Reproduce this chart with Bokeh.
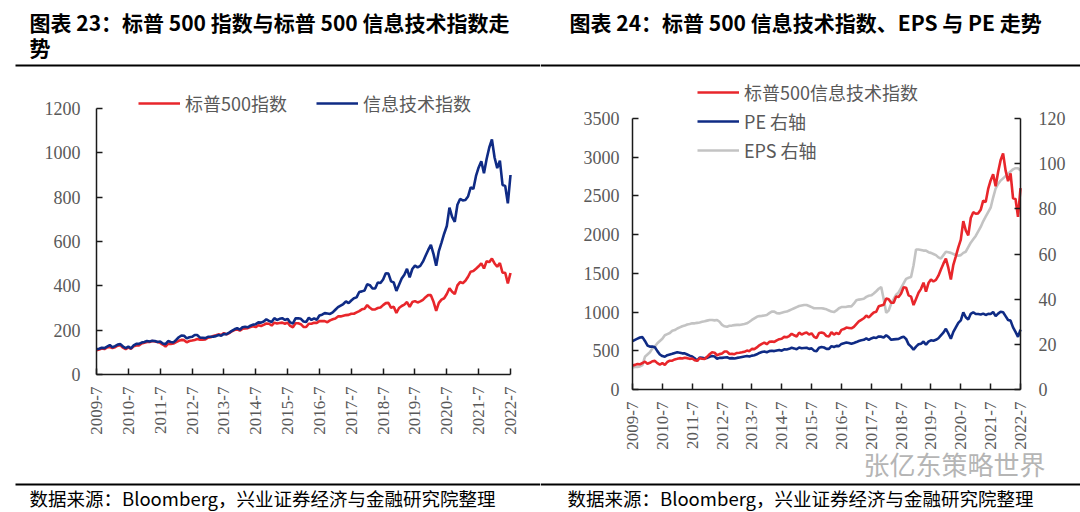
import math
from bokeh.plotting import figure
from bokeh.models import (Range1d, LinearAxis, FixedTicker, Legend, LegendItem,
                          Label, BoxAnnotation, ColumnDataSource)
from bokeh.layouts import row
from bokeh.embed import file_html
from bokeh.resources import INLINE

# ---------------- data (monthly, 2009-7 .. 2022-7) ----------------
tick_labels = ["2009-7", "2010-7", "2011-7", "2012-7", "2013-7", "2014-7", "2015-7",
               "2016-7", "2017-7", "2018-7", "2019-7", "2020-7", "2021-7", "2022-7"]

# chart 23: S&P 500 and S&P 500 IT, rebased
spx_rebased = [110, 113, 117, 115, 122, 124,
               119, 123, 130, 132, 121, 114, 122, 116, 127, 131, 131, 140,
               143, 147, 147, 151, 149, 147, 143, 135, 126, 139, 138, 140,
               146, 152, 156, 155, 145, 151, 153, 156, 160, 157, 157, 158,
               166, 168, 174, 177, 181, 178, 187, 181, 187, 195, 200, 205,
               198, 206, 208, 209, 214, 218, 214, 222, 219, 224, 230, 229,
               221, 234, 230, 232, 234, 229, 234, 219, 213, 231, 231, 227,
               215, 214, 229, 229, 233, 233, 241, 241, 241, 236, 244, 249,
               253, 262, 262, 265, 268, 269, 274, 274, 280, 286, 294, 297,
               313, 301, 293, 294, 300, 302, 313, 322, 323, 301, 306, 278,
               300, 309, 315, 327, 305, 327, 331, 325, 330, 337, 349, 359,
               358, 328, 287, 323, 338, 344, 363, 389, 373, 363, 402, 417,
               412, 423, 441, 464, 467, 477, 488, 502, 478, 511, 507, 523,
               501, 486, 503, 459, 459, 411, 458]

it_rebased = [114, 116, 121, 119, 126, 133,
              123, 128, 135, 137, 126, 119, 126, 118, 131, 138, 138, 144,
              147, 151, 149, 152, 151, 147, 149, 140, 137, 151, 147, 145,
              156, 168, 176, 175, 163, 168, 170, 178, 178, 166, 166, 164,
              170, 170, 171, 173, 178, 175, 183, 182, 189, 197, 204, 209,
              202, 213, 215, 213, 220, 225, 227, 235, 234, 239, 249, 242,
              237, 254, 246, 251, 254, 246, 251, 235, 230, 253, 254, 251,
              239, 237, 256, 246, 253, 247, 266, 270, 277, 275, 273, 280,
              292, 304, 311, 318, 330, 322, 334, 344, 348, 372, 375, 379,
              407, 403, 388, 388, 415, 413, 429, 457, 455, 420, 415, 377,
              405, 433, 450, 477, 438, 476, 491, 483, 490, 509, 536, 562,
              585, 543, 491, 557, 595, 635, 670, 753, 711, 689, 766, 792,
              785, 787, 803, 844, 837, 896, 934, 962, 908, 972, 1024, 1060,
              979, 931, 965, 855, 851, 772, 900]

# chart 24: S&P 500 IT index (left axis), PE and EPS (right axis)
it_index = [310, 318, 330, 325, 342, 360,
            333, 345, 365, 370, 340, 322, 340, 318, 355, 372, 372, 388,
            396, 405, 400, 410, 405, 396, 400, 378, 370, 405, 397, 393,
            422, 455, 480, 475, 442, 457, 465, 490, 490, 458, 460, 456,
            472, 474, 480, 487, 503, 495, 525, 522, 543, 570, 590, 605,
            585, 615, 620, 615, 635, 650, 655, 680, 675, 690, 720, 700,
            685, 735, 710, 725, 735, 710, 725, 680, 665, 730, 735, 725,
            690, 685, 740, 710, 730, 715, 770, 780, 800, 795, 790, 810,
            845, 880, 900, 920, 955, 930, 965, 995, 1005, 1075, 1085, 1095,
            1175, 1165, 1120, 1120, 1200, 1195, 1240, 1320, 1315, 1215, 1200, 1090,
            1170, 1250, 1300, 1380, 1265, 1375, 1420, 1395, 1415, 1470, 1550, 1625,
            1690, 1570, 1420, 1610, 1720, 1835, 1935, 2175, 2055, 1990, 2215, 2290,
            2270, 2275, 2320, 2440, 2420, 2590, 2700, 2780, 2625, 2810, 2960, 3050,
            2830, 2690, 2790, 2470, 2460, 2230, 2600]

pe = [21.4, 22, 22.5, 23, 23.2, 21.5,
      19.5, 19, 19, 18.7, 17, 15.5, 14.8, 14.5, 15.2, 15.5, 15.8, 16.2,
      16.5, 16.3, 16, 16, 15.5, 15, 14.6, 13.8, 12.8, 14.2, 14, 13.8,
      14, 14.5, 14.8, 14.6, 13.6, 14, 14, 14.2, 14.3, 13.8, 13.9, 13.7,
      14, 14.2, 14.4, 14.6, 14.8, 14.6, 15, 15.2, 15.6, 16.2, 16.6, 16.8,
      16.5, 17, 17.2, 17, 17.3, 17.5, 17.2, 17.8, 17.7, 18, 18.5, 18.2,
      17.8, 18.6, 18.3, 18.4, 18.5, 18, 18.2, 17.2, 17, 18.5, 18.8, 18.6,
      18, 18, 19.2, 18.8, 19.3, 19.2, 20.2, 20.5, 20.8, 20.6, 20.3, 20.6,
      21, 21.5, 21.8, 22, 22.6, 22, 22.6, 23, 22.8, 23.5, 23.4, 23,
      24, 23.2, 22, 22.2, 22.3, 22.4, 23, 23.4, 22.4, 20, 19, 17.6,
      19, 20, 20.3, 21.2, 19.8, 21.2, 21.8, 21.6, 22, 22.7, 24, 25.2,
      26.9, 24.8, 22.5, 25.5, 27.5, 29.5, 30.6, 34.2, 32, 31, 33.5, 34.2,
      33.4, 33.4, 33.2, 33.6, 33, 33.5, 33.4, 34.3, 32.5, 33.6, 34.4, 34.2,
      32.5, 30.8, 30.5, 27.5, 25.5, 23.3, 26.5]

eps = [9.8, 10, 10, 10.2, 10.8, 14.5,
       15.5, 16.5, 18.2, 19, 20.5, 21.5, 22.5, 24, 24.5, 25, 26, 26.3,
       27, 27.5, 28, 28.3, 28.8, 29, 29.3, 29.3, 29.5, 29.7, 30, 30.2,
       30.5, 30.8, 30.8, 30.6, 30.8, 30, 28.6, 28, 27.8, 28.2, 28.3, 28.5,
       28.6, 28.6, 28.8, 29, 29.3, 30, 30.8, 31.5, 32.2, 32.5, 32.6, 32.8,
       33, 33.8, 34.5, 34.5, 33.8, 33.7, 34, 34.3, 34.5, 35, 35.5, 36,
       36.5, 37, 37.2, 37.4, 37.4, 37, 36.5, 36, 36, 36, 36, 35.8,
       35.5, 35, 34.5, 34.3, 35, 36, 36.5, 36.5, 36.6, 36.8, 36.8, 38,
       39.5, 39.8, 40, 40.2, 41, 41.5, 41.7, 42.5, 43.5, 44.6, 45.4, 40,
       34, 35, 38, 40, 42, 43, 45, 47, 49, 49.5, 49.8, 55,
       62, 62, 61.8, 61.5, 61.5, 60.8, 60.5, 60, 59.5, 58.5, 58, 59.5,
       61, 60.8, 60.5, 60, 59.5, 59.2, 59.5, 60.5, 61, 63, 65, 66.5,
       68, 70, 72, 74.5, 76.5, 78.5, 80.5, 85, 89, 91, 92.5, 93.5,
       94.5, 95.5, 96.5, 97.5, 98, 98, 97]

month_idx = list(range(len(spx_rebased)))
tick_pos = [12 * i for i in range(len(tick_labels))]
X_END = tick_pos[-1]

RED = "#e8262b"
NAVY = "#0f2b85"
GRAY = "#c3c3c3"
CJK = "Noto Sans CJK SC"
SERIF = "Liberation Serif"
TICK_COLOR = "#595959"

W, H = 540, 512          # each panel's canvas size (canvas drawn at page 0,0)


def pix_range(d0, d1, p0, p1, total):
    """Range so that data d0 -> pixel p0 and d1 -> pixel p1 on a canvas of `total` px."""
    scale = (p1 - p0) / (d1 - d0)
    return Range1d(d0 - p0 / scale, d0 + (total - p0) / scale)


def style_axis(ax, standoff, size="18px"):
    ax.axis_line_color = "#1a1a1a"
    ax.axis_line_width = 1.5
    ax.major_tick_line_color = "#1a1a1a"
    ax.major_tick_line_width = 1.5
    ax.major_tick_in = 6
    ax.major_tick_out = 0
    ax.minor_tick_line_color = None
    ax.major_label_text_font = SERIF
    ax.major_label_text_font_size = size
    ax.major_label_text_color = TICK_COLOR
    ax.major_label_standoff = standoff


def base_fig(x_left_px, x_right_px, y0_px, y1_px, y_top_val):
    # frame covers the whole canvas; axes are pinned with fixed_location
    p = figure(width=W, height=H, output_backend="svg", toolbar_location=None,
               min_border=0,
               x_range=pix_range(0, X_END, x_left_px, x_right_px, W),
               y_range=pix_range(0, y_top_val, y0_px, y1_px, H))
    p.outline_line_color = None
    p.xgrid.visible = False
    p.ygrid.visible = False
    p.background_fill_color = "white"
    p.border_fill_color = "white"
    p.xaxis.ticker = FixedTicker(ticks=tick_pos)
    p.xaxis.major_label_overrides = {t: lab for t, lab in zip(tick_pos, tick_labels)}
    p.xaxis.major_label_orientation = math.pi / 2
    p.xaxis.fixed_location = 0
    p.xaxis.bounds = (0, X_END)
    style_axis(p.xaxis[0], 12, "17px")
    p.yaxis.fixed_location = 0
    p.yaxis.bounds = (0, y_top_val)
    return p


def screen_label(p, x, y, text, size, color="black", bold=False, font=CJK):
    p.add_layout(Label(x=x, y=y, x_units="screen", y_units="screen", text=text,
                       text_font=font, text_font_size=size, text_color=color,
                       text_font_style="bold" if bold else "normal",
                       text_baseline="middle", text_align="left"))


def rule(p, x0, x1, y):
    p.add_layout(BoxAnnotation(left=x0, right=x1, bottom=y - 1, top=y + 1,
                               left_units="screen", right_units="screen",
                               bottom_units="screen", top_units="screen",
                               fill_color="black", fill_alpha=1.0, line_color=None))


# screen y (bottom-up) of a page pixel row
def sy(page_y):
    return H - page_y


# ---------------- chart 23 ----------------
src1 = ColumnDataSource(dict(x=month_idx, spx=spx_rebased, it=it_rebased))
# frame: x 0 at page 96, x end at page 510; y 0 at page 374, 1200 at page 108
p1 = base_fig(96, 510, sy(374), sy(108), 1200)
p1.yaxis.ticker = FixedTicker(ticks=[0, 200, 400, 600, 800, 1000, 1200])
style_axis(p1.yaxis[0], 16)

r_spx = p1.line("x", "spx", source=src1, line_color=RED, line_width=2.6)
r_it = p1.line("x", "it", source=src1, line_color=NAVY, line_width=2.6)

leg1 = Legend(items=[LegendItem(label="标普500指数", renderers=[r_spx]),
                     LegendItem(label="信息技术指数", renderers=[r_it])],
              orientation="horizontal", location=(138, sy(116)), spacing=29,
              padding=0, margin=0, glyph_width=42, glyph_height=20,
              label_height=20, label_standoff=5, border_line_color=None,
              background_fill_alpha=0, label_text_font=CJK,
              label_text_font_size="18px", label_text_color=TICK_COLOR)
p1.add_layout(leg1)

screen_label(p1, 29, sy(21), "图表 23：标普 500 指数与标普 500 信息技术指数走", "21px", bold=True)
screen_label(p1, 29, sy(46), "势", "21px", bold=True)
rule(p1, 15, W, sy(65))
rule(p1, 15, W, sy(484))
screen_label(p1, 29, sy(497), "数据来源：Bloomberg，兴业证券经济与金融研究院整理", "18.5px")

# ---------------- chart 24 ----------------
OFF = 540   # page x of the right panel's canvas
src2 = ColumnDataSource(dict(x=month_idx, it=it_index, pe=pe, eps=eps))
# frame: x 0 at page 632, x end at page 1020; y 0 at page 389, top at page 118
p2 = base_fig(632 - OFF, 1020 - OFF, sy(389), sy(118), 3500)
p2.yaxis.ticker = FixedTicker(ticks=[0, 500, 1000, 1500, 2000, 2500, 3000, 3500])
style_axis(p2.yaxis[0], 13)
p2.extra_y_ranges = {"right": pix_range(0, 120, sy(389), sy(118), H)}
ax_r = LinearAxis(y_range_name="right", ticker=FixedTicker(ticks=[0, 20, 40, 60, 80, 100, 120]),
                  fixed_location=X_END, bounds=(0, 120))
style_axis(ax_r, 18)
p2.add_layout(ax_r, "right")

r_eps = p2.line("x", "eps", source=src2, line_color=GRAY, line_width=2.6, y_range_name="right")
r_pe = p2.line("x", "pe", source=src2, line_color=NAVY, line_width=2.6, y_range_name="right")
r_it2 = p2.line("x", "it", source=src2, line_color=RED, line_width=2.6)

leg2 = Legend(items=[LegendItem(label="标普500信息技术指数", renderers=[r_it2]),
                     LegendItem(label="PE 右轴", renderers=[r_pe]),
                     LegendItem(label="EPS 右轴", renderers=[r_eps])],
              orientation="vertical", location=(697 - OFF, sy(163)), spacing=3,
              padding=0, margin=0, glyph_width=42, glyph_height=20,
              label_height=20, label_standoff=5, border_line_color=None,
              background_fill_alpha=0, label_text_font=CJK,
              label_text_font_size="18px", label_text_color=TICK_COLOR)
p2.add_layout(leg2)

screen_label(p2, 569 - OFF, sy(21), "图表 24：标普 500 信息技术指数、EPS 与 PE 走势", "21px", bold=True)
rule(p2, 0, W, sy(65))
rule(p2, 0, W, sy(484))
screen_label(p2, 567 - OFF, sy(497), "数据来源：Bloomberg，兴业证券经济与金融研究院整理", "18.5px")
screen_label(p2, 863 - OFF, sy(463), "张亿东策略世界", "26px", color="#b5b5b5")

layout = row(p1, p2)
open("out.html", "w").write(file_html(layout, INLINE))
